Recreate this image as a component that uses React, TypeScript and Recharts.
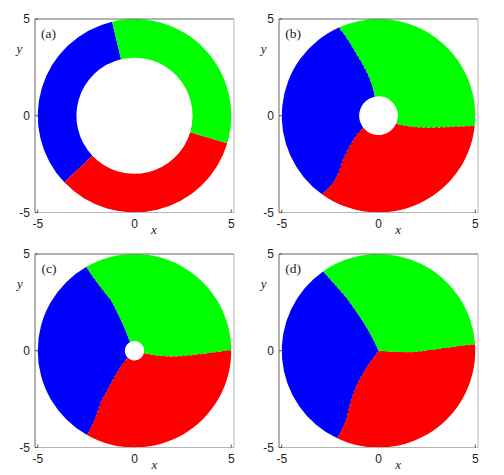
import { PieChart, Pie, Cell, ScatterChart, Scatter, XAxis, YAxis, ReferenceLine } from "recharts";

const BLUE = "#0000ff";
const RED = "#ff0000";
const GREEN = "#00ff00";

const TICKS = [-5, 0, 5];

// ring edges (radius, x/y units) and the three region boundaries read off the
// picture at each ring's mid radius, in degrees ccw from +x
const EDGES_A = [3, 5];
const BLUE_GREEN_A = [103.4];
const RED_BLUE_A = [223.5];
const GREEN_RED_A = [-16.5];

const EDGES_B = [1, 1.25, 1.5, 1.75, 2, 2.25, 2.5, 2.75, 3, 3.25, 3.5, 3.75, 4, 4.25, 4.5, 4.75, 5];
const BLUE_GREEN_B = [100.8, 101.3, 102.0, 103.0, 104.0, 105.3, 106.5, 107.5, 108.5, 109.5, 110.3, 111.0, 111.6, 112.3, 113.0, 113.8];
const RED_BLUE_B = [219.5, 221.0, 222.8, 224.5, 226.5, 228.3, 229.8, 231.0, 232.5, 234.0, 235.2, 235.8, 236.0, 235.8, 235.2, 234.5];
const GREEN_RED_B = [-23.0, -21.0, -19.0, -17.5, -16.2, -14.8, -13.5, -12.3, -11.0, -10.0, -9.2, -8.4, -7.7, -7.1, -6.6, -6.1];

const EDGES_C = [0.5, 0.75, 1, 1.25, 1.5, 1.75, 2, 2.25, 2.5, 2.75, 3, 3.25, 3.5, 3.75, 4, 4.25, 4.5, 4.75, 5];
const BLUE_GREEN_C = [116, 114.5, 114, 113.8, 113.8, 114, 114.2, 114.4, 114.6, 115, 116, 117, 117.8, 118.4, 118.9, 119.3, 119.6, 119.8];
const RED_BLUE_C = [226.5, 228, 229.6, 231.2, 232.4, 233.4, 234.4, 235.2, 235.8, 236.3, 236.9, 237.7, 238.6, 239.5, 240.0, 240.4, 240.6, 240.6];
const GREEN_RED_C = [-14.0, -13.0, -11.8, -10.8, -9.8, -8.9, -7.8, -6.6, -5.4, -4.5, -3.7, -3.0, -2.3, -1.7, -1.1, -0.6, -0.1, 0.3];

const EDGES_D = [0, 0.25, 0.5, 0.75, 1, 1.25, 1.5, 1.75, 2, 2.25, 2.5, 2.75, 3, 3.25, 3.5, 3.75, 4, 4.25, 4.5, 4.75, 5];
const BLUE_GREEN_D = [113, 114, 115, 115.8, 116.5, 117.2, 117.9, 118.5, 119.1, 119.7, 120.2, 120.6, 121.0, 121.6, 122.3, 122.9, 123.4, 123.9, 124.3, 124.7];
const RED_BLUE_D = [236, 235, 234.5, 234.5, 235, 235.8, 236.5, 237.2, 238, 239, 240, 241, 242, 243, 244, 244.8, 245.1, 245.2, 245.1, 244.8];
const GREEN_RED_D = [-4, -4, -3.8, -3.5, -3.3, -3.0, -2.4, -1.6, -0.8, 0.0, 0.8, 1.4, 1.9, 2.4, 2.8, 3.1, 3.4, 3.6, 3.8, 3.9];

const FW = 199;
const FH = 193.5;
const PAD_L = 40;
const PAD_T = 20;
const CW = FW + 60;
const CH = FH + 45;
const UNIT = FH / 10;
const X0 = (5 * FW) / FH;

const tickStyle = { fill: "#222", fontSize: 12, fontFamily: "'Liberation Sans', Arial, sans-serif" };
const serif = "'Liberation Serif', 'Times New Roman', serif";

interface PanelProps {
  left: number;
  top: number;
  label: string;
  edges: number[];
  blueGreen: number[];
  redBlue: number[];
  greenRed: number[];
}

function Panel({ left, top, label, edges, blueGreen, redBlue, greenRed }: PanelProps) {
  const cx = PAD_L + FW / 2;
  const cy = PAD_T + FH / 2;
  const last = blueGreen.length - 1;

  const rings = blueGreen.map((bg, i) => {
    const rb = redBlue[i];
    const gr = greenRed[i] + 360;
    return {
      inner: edges[i] * UNIT,
      // overlap into the next ring a little so no seam shows between rings
      outer: edges[i + 1] * UNIT + (i < last ? 1.2 : 0),
      start: bg,
      data: [
        { name: "blue", value: rb - bg, color: BLUE },
        { name: "red", value: gr - rb, color: RED },
        { name: "green", value: bg + 360 - gr, color: GREEN },
      ],
    };
  });

  return (
    <div style={{ position: "absolute", left: left - PAD_L, top: top - PAD_T, width: CW, height: CH }}>
      <div style={{ position: "absolute", left: 0, top: 0 }}>
        <PieChart width={CW} height={CH} margin={{ top: 0, right: 0, bottom: 0, left: 0 }}>
          {rings.map((ring, i) => (
            <Pie
              key={i}
              data={ring.data}
              dataKey="value"
              cx={cx}
              cy={cy}
              innerRadius={ring.inner}
              outerRadius={ring.outer}
              startAngle={ring.start}
              endAngle={ring.start + 360}
              paddingAngle={0}
              stroke="none"
              isAnimationActive={false}
            >
              {ring.data.map((d) => (
                <Cell key={d.name} fill={d.color} stroke="none" />
              ))}
            </Pie>
          ))}
        </PieChart>
      </div>

      <div style={{ position: "absolute", left: 0, top: 0 }}>
        <ScatterChart width={CW} height={CH} margin={{ top: PAD_T, right: CW - PAD_L - FW, bottom: 0, left: 0 }}>
          <XAxis
            type="number"
            dataKey="x"
            domain={[-X0, X0]}
            ticks={TICKS}
            interval={0}
            allowDataOverflow
            height={CH - PAD_T - FH}
            tickSize={-3}
            tickMargin={9.5}
            axisLine={{ stroke: "#b4b4b4" }}
            tickLine={{ stroke: "#555" }}
            tick={tickStyle}
          />
          <YAxis
            type="number"
            dataKey="y"
            domain={[-5, 5]}
            ticks={TICKS}
            interval={0}
            allowDataOverflow
            width={PAD_L}
            tickSize={-3}
            tickMargin={8}
            axisLine={{ stroke: "#666" }}
            tickLine={{ stroke: "#555" }}
            tick={tickStyle}
          />
          <ReferenceLine y={5} stroke="#666" />
          <ReferenceLine x={X0} stroke="#b4b4b4" />
          <Scatter data={[]} isAnimationActive={false} />
        </ScatterChart>
      </div>

      {/* panel tag and axis names */}
      <span style={{ position: "absolute", left: PAD_L + 6.5, top: PAD_T + 8, fontFamily: serif, fontSize: 13.5, lineHeight: "14px", color: "#222" }}>
        {label}
      </span>
      <span style={{ position: "absolute", left: PAD_L - 18, top: PAD_T + 23, fontFamily: serif, fontStyle: "italic", fontSize: 13, lineHeight: "13px", color: "#222" }}>
        y
      </span>
      <span style={{ position: "absolute", left: PAD_L + FW / 2 + 17, top: PAD_T + FH + 10, fontFamily: serif, fontStyle: "italic", fontSize: 13, lineHeight: "13px", color: "#222" }}>
        x
      </span>
    </div>
  );
}

export default function App() {
  return (
    <div style={{ position: "absolute", left: 0, top: 0, width: 504, height: 475, background: "#fff" }}>
      <Panel left={34.5} top={19} label="(a)" edges={EDGES_A} blueGreen={BLUE_GREEN_A} redBlue={RED_BLUE_A} greenRed={GREEN_RED_A} />
      <Panel left={278.7} top={19} label="(b)" edges={EDGES_B} blueGreen={BLUE_GREEN_B} redBlue={RED_BLUE_B} greenRed={GREEN_RED_B} />
      <Panel left={35} top={254} label="(c)" edges={EDGES_C} blueGreen={BLUE_GREEN_C} redBlue={RED_BLUE_C} greenRed={GREEN_RED_C} />
      <Panel left={278.7} top={254} label="(d)" edges={EDGES_D} blueGreen={BLUE_GREEN_D} redBlue={RED_BLUE_D} greenRed={GREEN_RED_D} />
    </div>
  );
}
